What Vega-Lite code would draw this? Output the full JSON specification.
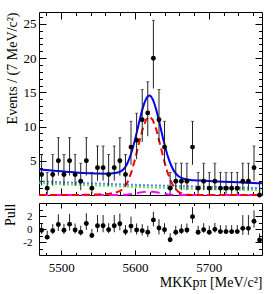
{
  "$schema": "https://vega.github.io/schema/vega-lite/v6.json",
  "autosize": {"type": "pad"},
  "padding": {"left": 3, "top": 10, "right": 16, "bottom": 6},
  "background": "white",
  "spacing": 8,
  "bounds": "flush",
  "config": {
    "font": "Liberation Serif",
    "view": {"stroke": "black", "strokeWidth": 1},
    "axis": {"grid": false, "domain": false, "labelFont": "Liberation Serif", "titleFont": "Liberation Serif", "labelFontSize": 13, "titleFontSize": 14, "titleFontWeight": "normal", "labelColor": "black", "titleColor": "black", "tickColor": "black", "labelOverlap": false, "labelBound": false, "labelFlush": false}
  },
  "datasets": {
    "curves": [
      {"x": 5470, "t": 3.750, "s": 0, "b1": 2.000, "b2": 1.750, "m": 0},
      {"x": 5480, "t": 3.653, "s": 0, "b1": 1.955, "b2": 1.698, "m": 0},
      {"x": 5490, "t": 3.557, "s": 0, "b1": 1.910, "b2": 1.647, "m": 0},
      {"x": 5500, "t": 3.465, "s": 0, "b1": 1.867, "b2": 1.598, "m": 0},
      {"x": 5510, "t": 3.375, "s": 0, "b1": 1.825, "b2": 1.550, "m": 0},
      {"x": 5520, "t": 3.287, "s": 0, "b1": 1.783, "b2": 1.504, "m": 0},
      {"x": 5530, "t": 3.222, "s": 0.02, "b1": 1.743, "b2": 1.459, "m": 0},
      {"x": 5540, "t": 3.168, "s": 0.05, "b1": 1.703, "b2": 1.415, "m": 0},
      {"x": 5550, "t": 3.128, "s": 0.09, "b1": 1.665, "b2": 1.373, "m": 0},
      {"x": 5560, "t": 3.109, "s": 0.15, "b1": 1.627, "b2": 1.332, "m": 0},
      {"x": 5565, "t": 3.121, "s": 0.2, "b1": 1.609, "b2": 1.312, "m": 0},
      {"x": 5570, "t": 3.162, "s": 0.28, "b1": 1.590, "b2": 1.292, "m": 0},
      {"x": 5575, "t": 3.245, "s": 0.4, "b1": 1.572, "b2": 1.273, "m": 0},
      {"x": 5580, "t": 3.425, "s": 0.6, "b1": 1.554, "b2": 1.254, "m": 0.017},
      {"x": 5585, "t": 3.811, "s": 1.0, "b1": 1.536, "b2": 1.235, "m": 0.04},
      {"x": 5590, "t": 4.712, "s": 1.9, "b1": 1.519, "b2": 1.216, "m": 0.077},
      {"x": 5595, "t": 6.139, "s": 3.3, "b1": 1.501, "b2": 1.198, "m": 0.14},
      {"x": 5600, "t": 8.084, "s": 5.2, "b1": 1.484, "b2": 1.180, "m": 0.22},
      {"x": 5605, "t": 10.349, "s": 7.4, "b1": 1.467, "b2": 1.162, "m": 0.32},
      {"x": 5610, "t": 12.515, "s": 9.5, "b1": 1.450, "b2": 1.145, "m": 0.42},
      {"x": 5615, "t": 14.042, "s": 11.0, "b1": 1.434, "b2": 1.128, "m": 0.48},
      {"x": 5619.5, "t": 14.531, "s": 11.5, "b1": 1.419, "b2": 1.112, "m": 0.5},
      {"x": 5624, "t": 13.971, "s": 11.0, "b1": 1.404, "b2": 1.097, "m": 0.47},
      {"x": 5629, "t": 12.369, "s": 9.5, "b1": 1.388, "b2": 1.081, "m": 0.40},
      {"x": 5634, "t": 10.137, "s": 7.4, "b1": 1.373, "b2": 1.064, "m": 0.30},
      {"x": 5639, "t": 7.815, "s": 5.2, "b1": 1.357, "b2": 1.048, "m": 0.21},
      {"x": 5644, "t": 5.799, "s": 3.3, "b1": 1.341, "b2": 1.033, "m": 0.125},
      {"x": 5649, "t": 4.311, "s": 1.9, "b1": 1.326, "b2": 1.017, "m": 0.068},
      {"x": 5654, "t": 3.306, "s": 0.96, "b1": 1.311, "b2": 1.002, "m": 0.033},
      {"x": 5659, "t": 2.747, "s": 0.45, "b1": 1.296, "b2": 0.987, "m": 0.014},
      {"x": 5664, "t": 2.448, "s": 0.19, "b1": 1.281, "b2": 0.972, "m": 0.005},
      {"x": 5669, "t": 2.294, "s": 0.07, "b1": 1.267, "b2": 0.957, "m": 0},
      {"x": 5675, "t": 2.209, "s": 0.02, "b1": 1.249, "b2": 0.940, "m": 0},
      {"x": 5680, "t": 2.161, "s": 0, "b1": 1.235, "b2": 0.926, "m": 0},
      {"x": 5690, "t": 2.105, "s": 0, "b1": 1.207, "b2": 0.898, "m": 0},
      {"x": 5700, "t": 2.051, "s": 0, "b1": 1.180, "b2": 0.871, "m": 0},
      {"x": 5710, "t": 1.998, "s": 0, "b1": 1.153, "b2": 0.845, "m": 0},
      {"x": 5720, "t": 1.947, "s": 0, "b1": 1.127, "b2": 0.820, "m": 0},
      {"x": 5730, "t": 1.897, "s": 0, "b1": 1.101, "b2": 0.796, "m": 0},
      {"x": 5740, "t": 1.849, "s": 0, "b1": 1.077, "b2": 0.772, "m": 0},
      {"x": 5750, "t": 1.801, "s": 0, "b1": 1.052, "b2": 0.749, "m": 0},
      {"x": 5760, "t": 1.754, "s": 0, "b1": 1.028, "b2": 0.726, "m": 0},
      {"x": 5772, "t": 1.700, "s": 0, "b1": 1.000, "b2": 0.700, "m": 0}
    ],
    "points": [
      {"x": 5473.5, "n": 3, "lo": 1.37, "hi": 5.92, "p": -0.2, "plo": -0.76, "phi": 0.8},
      {"x": 5481.1, "n": 1, "lo": 0.17, "hi": 3.30, "p": -1.25, "plo": -1.61, "phi": -0.25},
      {"x": 5488.6, "n": 3, "lo": 1.37, "hi": 5.92, "p": -0.25, "plo": -0.81, "phi": 0.75},
      {"x": 5496.2, "n": 5, "lo": 2.84, "hi": 8.38, "p": 0.7, "plo": -0.3, "phi": 2.27},
      {"x": 5503.8, "n": 3, "lo": 1.37, "hi": 5.92, "p": -0.2, "plo": -0.76, "phi": 0.8},
      {"x": 5511.4, "n": 5, "lo": 2.84, "hi": 8.38, "p": 0.75, "plo": -0.25, "phi": 2.32},
      {"x": 5518.9, "n": 3, "lo": 1.37, "hi": 5.92, "p": -0.15, "plo": -0.71, "phi": 0.85},
      {"x": 5526.5, "n": 2, "lo": 0.71, "hi": 4.64, "p": -0.5, "plo": -0.99, "phi": 0.5},
      {"x": 5534.1, "n": 5, "lo": 2.84, "hi": 8.38, "p": 0.85, "plo": -0.15, "phi": 2.42},
      {"x": 5541.6, "n": 1, "lo": 0.17, "hi": 3.30, "p": -1.0, "plo": -1.36, "phi": 0.0},
      {"x": 5549.2, "n": 4, "lo": 2.09, "hi": 7.16, "p": 0.5, "plo": -0.5, "phi": 2.15},
      {"x": 5556.8, "n": 4, "lo": 2.09, "hi": 7.16, "p": 0.5, "plo": -0.5, "phi": 2.15},
      {"x": 5564.3, "n": 3, "lo": 1.37, "hi": 5.92, "p": -0.1, "plo": -0.66, "phi": 0.9},
      {"x": 5571.9, "n": 4, "lo": 2.09, "hi": 7.16, "p": 0.5, "plo": -0.5, "phi": 2.15},
      {"x": 5579.5, "n": 5, "lo": 2.84, "hi": 8.38, "p": 0.8, "plo": -0.2, "phi": 2.37},
      {"x": 5587.1, "n": 3, "lo": 1.37, "hi": 5.92, "p": -0.4, "plo": -0.96, "phi": 0.6},
      {"x": 5594.6, "n": 7, "lo": 4.42, "hi": 10.77, "p": 0.45, "plo": -0.55, "phi": 1.91},
      {"x": 5602.2, "n": 8, "lo": 5.23, "hi": 11.95, "p": -0.15, "plo": -0.85, "phi": 0.85},
      {"x": 5609.8, "n": 11, "lo": 7.75, "hi": 15.42, "p": -0.25, "plo": -0.99, "phi": 0.75},
      {"x": 5617.3, "n": 12, "lo": 8.59, "hi": 16.55, "p": -0.5, "plo": -1.25, "phi": 0.5},
      {"x": 5624.9, "n": 20, "lo": 15.57, "hi": 25.54, "p": 1.4, "plo": 0.4, "phi": 2.65},
      {"x": 5632.5, "n": 11, "lo": 7.75, "hi": 15.42, "p": 0.15, "plo": -0.85, "phi": 1.51},
      {"x": 5640.0, "n": 7, "lo": 4.42, "hi": 10.77, "p": -0.1, "plo": -0.78, "phi": 0.9},
      {"x": 5647.6, "n": 1, "lo": 0.17, "hi": 3.30, "p": -1.65, "plo": -2.01, "phi": -0.65},
      {"x": 5655.2, "n": 2, "lo": 0.71, "hi": 4.64, "p": -0.5, "plo": -0.99, "phi": 0.5},
      {"x": 5662.8, "n": 2, "lo": 0.71, "hi": 4.64, "p": -0.27, "plo": -0.76, "phi": 0.73},
      {"x": 5670.3, "n": 2, "lo": 0.71, "hi": 4.64, "p": -0.15, "plo": -0.64, "phi": 0.85},
      {"x": 5677.9, "n": 7, "lo": 4.42, "hi": 10.77, "p": 1.9, "plo": 0.9, "phi": 3.36},
      {"x": 5685.5, "n": 1, "lo": 0.17, "hi": 3.30, "p": -0.5, "plo": -0.86, "phi": 0.5},
      {"x": 5693.0, "n": 2, "lo": 0.71, "hi": 4.64, "p": -0.1, "plo": -0.59, "phi": 0.9},
      {"x": 5700.6, "n": 1, "lo": 0.17, "hi": 3.30, "p": -0.5, "plo": -0.86, "phi": 0.5},
      {"x": 5708.2, "n": 2, "lo": 0.71, "hi": 4.64, "p": -0.05, "plo": -0.55, "phi": 0.95},
      {"x": 5715.7, "n": 1, "lo": 0.17, "hi": 3.30, "p": -0.4, "plo": -0.76, "phi": 0.6},
      {"x": 5723.3, "n": 1, "lo": 0.17, "hi": 3.30, "p": -0.4, "plo": -0.76, "phi": 0.6},
      {"x": 5730.9, "n": 1, "lo": 0.17, "hi": 3.30, "p": -0.4, "plo": -0.76, "phi": 0.6},
      {"x": 5738.5, "n": 1, "lo": 0.17, "hi": 3.30, "p": -0.4, "plo": -0.76, "phi": 0.6},
      {"x": 5746.0, "n": 2, "lo": 0.71, "hi": 4.64, "p": 0.1, "plo": -0.9, "phi": 2.14},
      {"x": 5753.6, "n": 2, "lo": 0.71, "hi": 4.64, "p": 0.1, "plo": -0.9, "phi": 2.14},
      {"x": 5761.2, "n": 4, "lo": 2.09, "hi": 7.16, "p": 1.2, "plo": 0.2, "phi": 2.85},
      {"x": 5768.7, "n": 0, "lo": 0, "hi": 1.84, "p": -1.7, "plo": -1.7, "phi": -0.7}
    ]
  },
  "vconcat": [
    {
      "width": 223,
      "height": 183,
      "resolve": {"axis": {"x": "independent", "y": "independent"}},
      "layer": [
        {
          "data": {"name": "curves"},
          "mark": {"type": "line", "color": "#3a5cff", "strokeWidth": 2, "strokeDash": [2, 2], "opacity": 0.8},
          "encoding": {
            "x": {"field": "x", "type": "quantitative", "scale": {"domain": [5470, 5772], "nice": false, "zero": false},
              "axis": {"orient": "bottom", "values": [5480,5500,5520,5540,5560,5580,5600,5620,5640,5660,5680,5700,5720,5740,5760], "labels": false, "title": null,
                "tickSize": {"condition": {"test": "datum.value % 100 === 0", "value": -7}, "value": -3.5}}},
            "y": {"field": "b1", "type": "quantitative", "scale": {"domain": [0, 26.75], "nice": false, "zero": false},
              "axis": {"orient": "left", "values": [1,2,3,4,5,6,7,8,9,10,11,12,13,14,15,16,17,18,19,20,21,22,23,24,25,26],
                "labelExpr": "datum.value % 5 === 0 ? datum.label : ''", "labelPadding": 10,
                "tickSize": {"condition": {"test": "datum.value % 5 === 0", "value": -7}, "value": -3.5},
                "title": "Events / (7 MeV/c²)", "titleAnchor": "end", "titlePadding": 4}}
          }
        },
        {
          "data": {"name": "curves"},
          "mark": {"type": "line", "color": "#33dd33", "strokeWidth": 2, "strokeDash": [2, 2], "opacity": 0.8},
          "encoding": {
            "x": {"field": "x", "type": "quantitative", "scale": {"domain": [5470, 5772], "nice": false, "zero": false},
              "axis": {"orient": "top", "values": [5480,5500,5520,5540,5560,5580,5600,5620,5640,5660,5680,5700,5720,5740,5760], "labels": false, "title": null,
                "tickSize": {"condition": {"test": "datum.value % 100 === 0", "value": -7}, "value": -3.5}}},
            "y": {"field": "b2", "type": "quantitative", "scale": {"domain": [0, 26.75], "nice": false, "zero": false},
              "axis": {"orient": "right", "values": [1,2,3,4,5,6,7,8,9,10,11,12,13,14,15,16,17,18,19,20,21,22,23,24,25,26], "labels": false, "title": null,
                "tickSize": {"condition": {"test": "datum.value % 5 === 0", "value": -7}, "value": -3.5}}}
          }
        },
        {
          "data": {"name": "curves"},
          "mark": {"type": "line", "color": "#ff00ff", "strokeWidth": 2, "strokeDash": [9, 5]},
          "encoding": {
            "x": {"field": "x", "type": "quantitative", "scale": {"domain": [5470, 5772], "nice": false, "zero": false}, "axis": null},
            "y": {"field": "m", "type": "quantitative", "scale": {"domain": [0, 26.75], "nice": false, "zero": false}, "axis": null}
          }
        },
        {
          "data": {"name": "curves"},
          "mark": {"type": "line", "color": "#ff0000", "strokeWidth": 2, "strokeDash": [7, 4]},
          "encoding": {
            "x": {"field": "x", "type": "quantitative", "scale": {"domain": [5470, 5772], "nice": false, "zero": false}, "axis": null},
            "y": {"field": "s", "type": "quantitative", "scale": {"domain": [0, 26.75], "nice": false, "zero": false}, "axis": null}
          }
        },
        {
          "data": {"name": "curves"},
          "mark": {"type": "line", "color": "#0000ff", "strokeWidth": 2, "interpolate": "monotone"},
          "encoding": {
            "x": {"field": "x", "type": "quantitative", "scale": {"domain": [5470, 5772], "nice": false, "zero": false}, "axis": null},
            "y": {"field": "t", "type": "quantitative", "scale": {"domain": [0, 26.75], "nice": false, "zero": false}, "axis": null}
          }
        },
        {
          "data": {"name": "points"},
          "mark": {"type": "rule", "color": "#222222", "strokeWidth": 1},
          "encoding": {
            "x": {"field": "x", "type": "quantitative", "scale": {"domain": [5470, 5772], "nice": false, "zero": false}, "axis": null},
            "y": {"field": "lo", "type": "quantitative", "scale": {"domain": [0, 26.75], "nice": false, "zero": false}, "axis": null},
            "y2": {"field": "hi"}
          }
        },
        {
          "data": {"name": "points"},
          "mark": {"type": "tick", "orient": "horizontal", "color": "#222222", "size": 3, "thickness": 1},
          "encoding": {
            "x": {"field": "x", "type": "quantitative", "scale": {"domain": [5470, 5772], "nice": false, "zero": false}, "axis": null},
            "y": {"field": "hi", "type": "quantitative", "scale": {"domain": [0, 26.75], "nice": false, "zero": false}, "axis": null}
          }
        },
        {
          "data": {"name": "points"},
          "mark": {"type": "point", "filled": true, "color": "black", "opacity": 1, "size": 24},
          "encoding": {
            "x": {"field": "x", "type": "quantitative", "scale": {"domain": [5470, 5772], "nice": false, "zero": false}, "axis": null},
            "y": {"field": "n", "type": "quantitative", "scale": {"domain": [0, 26.75], "nice": false, "zero": false}, "axis": null}
          }
        },
        {
          "mark": {"type": "text", "text": "(b)", "align": "left", "baseline": "alphabetic", "fontSize": 15, "font": "Liberation Serif"},
          "encoding": {
            "x": {"datum": 5483.5, "type": "quantitative", "scale": {"domain": [5470, 5772], "nice": false, "zero": false}, "axis": null},
            "y": {"datum": 22.9, "type": "quantitative", "scale": {"domain": [0, 26.75], "nice": false, "zero": false}, "axis": null}
          }
        },
        {
          "mark": {"type": "text", "text": "LHCb", "align": "left", "baseline": "alphabetic", "fontSize": 13, "font": "Liberation Serif"},
          "encoding": {
            "x": {"datum": 5650.5, "type": "quantitative", "scale": {"domain": [5470, 5772], "nice": false, "zero": false}, "axis": null},
            "y": {"datum": 23.78, "type": "quantitative", "scale": {"domain": [0, 26.75], "nice": false, "zero": false}, "axis": null}
          }
        },
        {
          "mark": {"type": "text", "text": "Downstream Λ", "align": "left", "baseline": "alphabetic", "fontSize": 13, "font": "Liberation Serif"},
          "encoding": {
            "x": {"datum": 5650.5, "type": "quantitative", "scale": {"domain": [5470, 5772], "nice": false, "zero": false}, "axis": null},
            "y": {"datum": 21.1, "type": "quantitative", "scale": {"domain": [0, 26.75], "nice": false, "zero": false}, "axis": null}
          }
        }
      ]
    },
    {
      "width": 223,
      "height": 52,
      "resolve": {"axis": {"x": "independent", "y": "independent"}},
      "layer": [
        {
          "mark": {"type": "rule", "color": "#ff2020", "strokeWidth": 1.5},
          "encoding": {
            "y": {"datum": 3, "type": "quantitative", "scale": {"domain": [-4, 4], "nice": false, "zero": false},
              "axis": {"orient": "right", "values": [-3,-2,-1,0,1,2,3], "labels": false, "title": null,
                "tickSize": {"condition": {"test": "datum.value % 2 === 0", "value": -7}, "value": -3.5}}}
          }
        },
        {
          "mark": {"type": "rule", "color": "#ff2020", "strokeWidth": 1.5},
          "encoding": {
            "y": {"datum": -3, "type": "quantitative", "scale": {"domain": [-4, 4], "nice": false, "zero": false}, "axis": null}
          }
        },
        {
          "mark": {"type": "rule", "color": "black", "strokeWidth": 1.2},
          "encoding": {
            "y": {"datum": 0, "type": "quantitative", "scale": {"domain": [-4, 4], "nice": false, "zero": false}, "axis": null}
          }
        },
        {
          "data": {"name": "points"},
          "mark": {"type": "rule", "color": "#222222", "strokeWidth": 1},
          "encoding": {
            "x": {"field": "x", "type": "quantitative", "scale": {"domain": [5470, 5772], "nice": false, "zero": false},
              "axis": {"orient": "top", "values": [5480,5500,5520,5540,5560,5580,5600,5620,5640,5660,5680,5700,5720,5740,5760], "labels": false, "title": null,
                "tickSize": {"condition": {"test": "datum.value % 100 === 0", "value": -5}, "value": -2.5}}},
            "y": {"field": "plo", "type": "quantitative", "scale": {"domain": [-4, 4], "nice": false, "zero": false}, "axis": null},
            "y2": {"field": "phi"}
          }
        },
        {
          "data": {"name": "points"},
          "mark": {"type": "point", "filled": true, "color": "black", "opacity": 1, "size": 24},
          "encoding": {
            "x": {"field": "x", "type": "quantitative", "scale": {"domain": [5470, 5772], "nice": false, "zero": false},
              "axis": {"orient": "bottom", "values": [5480,5500,5520,5540,5560,5580,5600,5620,5640,5660,5680,5700,5720,5740,5760],
                "labelExpr": "datum.value % 100 === 0 ? datum.label : ''", "format": "d", "labelPadding": 11,
                "tickSize": {"condition": {"test": "datum.value % 100 === 0", "value": -5}, "value": -2.5},
                "title": "MKKpπ [MeV/c²]", "titleAnchor": "end", "titlePadding": -1}},
            "y": {"field": "p", "type": "quantitative", "scale": {"domain": [-4, 4], "nice": false, "zero": false},
              "axis": {"orient": "left", "values": [-3,-2,-1,0,1,2,3],
                "labelExpr": "datum.value % 2 === 0 ? toString(datum.value) : ''", "labelFontSize": 11, "labelPadding": 14,
                "tickSize": {"condition": {"test": "datum.value % 2 === 0", "value": -7}, "value": -3.5},
                "title": "Pull", "titleAnchor": "end", "titlePadding": 5}}
          }
        }
      ]
    }
  ]
}
